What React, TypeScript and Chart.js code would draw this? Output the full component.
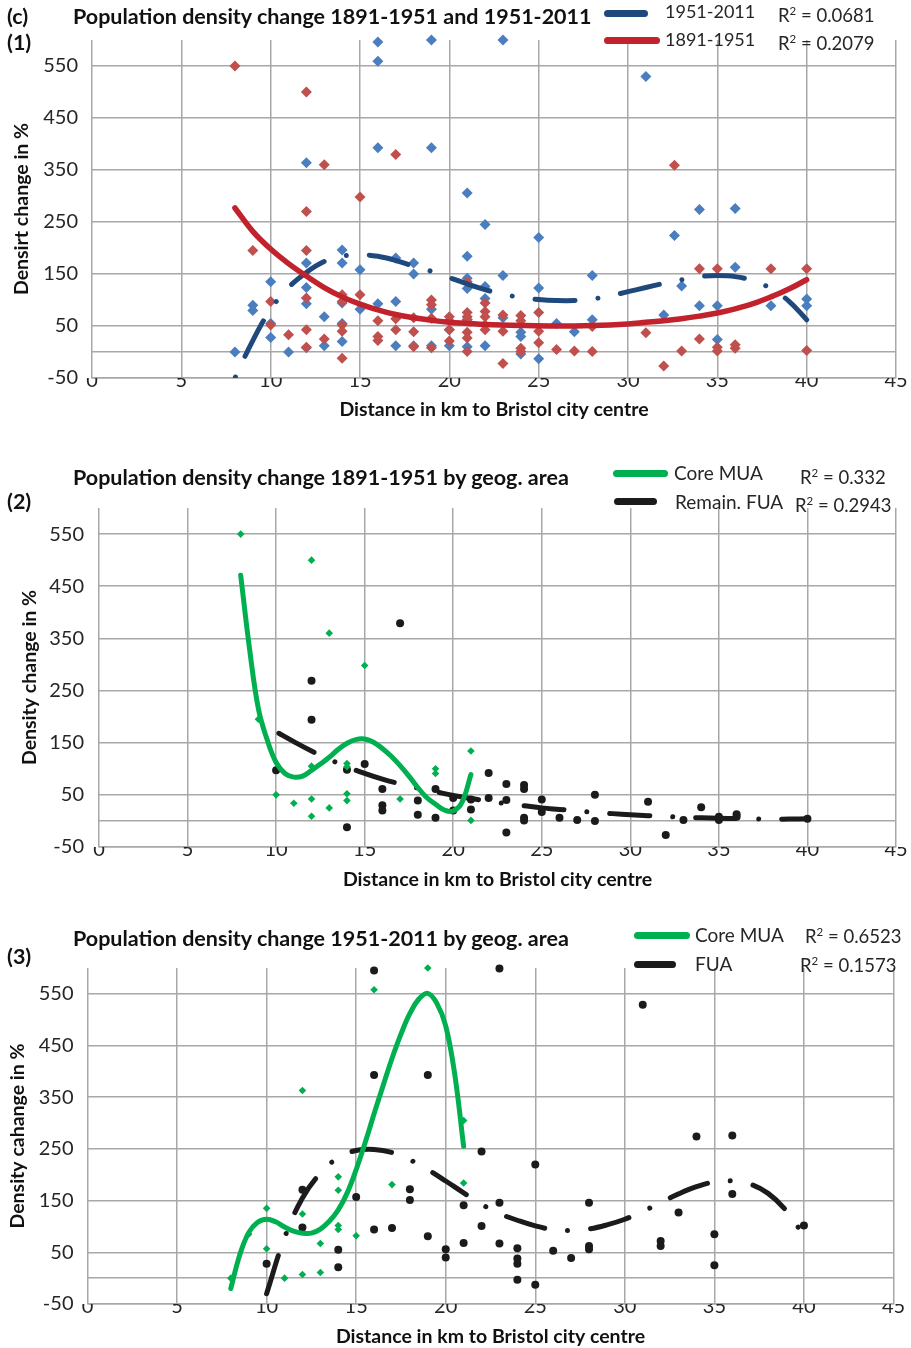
import React, { useEffect, useRef } from "react";
import { Chart, registerables } from "chart.js";

Chart.register(...registerables);

type Pt = [number, number];

// ---------- axis ticks ----------
const xTickValues = [0, 5, 10, 15, 20, 25, 30, 35, 40, 45];
const yTickValues = [-50, 0, 50, 150, 250, 350, 450, 550];

// ---------- Panel 1: all areas ----------
const p1Points1951_2011: Pt[] = [
  [8, 0], [9, 90], [9, 80], [10, 135], [10, 55], [10, 28], [11, 0],
  [12, 364], [12, 171], [12, 124], [12, 93], [12, 8], [13, 68], [13, 12],
  [14, 196], [14, 171], [14, 94], [14, 55], [14, 20], [15, 158], [15, 82],
  [16, 596], [16, 559], [16, 393], [16, 93], [17, 181], [17, 97], [17, 12],
  [18, 171], [18, 150], [18, 12], [19, 600], [19, 393], [19, 82], [19, 12],
  [20, 43], [20, 12], [21, 306], [21, 184], [21, 142], [21, 122], [21, 62], [21, 10],
  [22, 245], [22, 126], [22, 103], [22, 12], [23, 600], [23, 147], [23, 66],
  [24, 38], [24, 30], [24, -4], [25, 220], [25, 123], [25, -13], [26, 55], [27, 39],
  [28, 147], [28, 62], [31, 530], [32, 71], [32.6, 224], [33, 127], [34, 274], [34, 89],
  [35, 89], [35, 24], [36, 276], [36, 163], [38, 89], [40, 102], [40, 89],
];
const p1Points1891_1951: Pt[] = [
  [8, 550], [9, 195], [10, 97], [10, 52], [11, 33], [12, 500], [12, 270], [12, 195],
  [12, 104], [12, 43], [12, 9], [13, 360], [13, 25], [14, 110], [14, 97], [14, 52],
  [14, 40], [14, -12], [15, 298], [15, 110], [16, 60], [16, 30], [16, 22], [17, 380],
  [17, 64], [17, 43], [18, 66], [18, 39], [18, 10], [19, 100], [19, 91], [19, 65], [19, 8],
  [20, 68], [20, 60], [20, 43], [20, 21], [21, 135], [21, 76], [21, 68], [21, 62], [21, 38],
  [21, 27], [21, 1], [22, 94], [22, 78], [22, 68], [22, 52], [22, 43], [23, 71], [23, 40],
  [23, -22], [24, 70], [24, 60], [24, 7], [24, 1], [25, 76], [25, 40], [25, 18], [26, 5],
  [27, 2], [28, 49], [28, 1], [31, 37], [32, -27], [32.6, 359], [33, 2], [34, 160], [34, 25],
  [35, 160], [35, 9], [35, 2], [36, 14], [36, 7], [38, 160], [40, 160], [40, 3],
];
const p1Trend1951_2011: Pt[] = [
  [8, -50], [9, 22], [10, 82], [11, 124], [12, 153], [13, 174], [14, 184], [15, 187],
  [16, 184], [17, 176], [18, 165], [19, 155], [20, 143], [21, 131], [22, 120], [23, 111],
  [24, 105], [25, 101], [26, 99], [27, 99], [28, 102], [29, 108], [30, 116], [31, 124],
  [32, 132], [33, 139], [34, 145], [35, 147], [36, 145], [37, 137], [38, 122], [39, 98], [40, 62],
];
const p1Trend1891_1951: Pt[] = [
  [8, 277], [9, 232], [10, 198], [11, 170], [12, 146], [13, 124], [14, 106], [15, 92],
  [16, 81], [17, 72], [18, 66], [19, 61], [20, 57], [21, 55], [22, 53], [24, 51], [26, 50],
  [28, 51], [30, 54], [31, 57], [32, 60], [33, 64], [34, 69], [35, 75], [36, 83], [37, 93],
  [38, 106], [39, 121], [40, 139],
];

// ---------- Panel 2: 1891-1951 by area ----------
const p2CoreMua: Pt[] = [
  [8, 550], [9, 195], [10, 50], [11, 34], [12, 500], [12, 105], [12, 42], [12, 9],
  [13, 360], [13, 25], [14, 110], [14, 104], [14, 52], [14, 39], [15, 298], [17, 42],
  [19, 100], [19, 91], [21, 134], [21, 1],
];
const p2RemainFua: Pt[] = [
  [10, 97], [12, 269], [12, 194], [14, 98], [14, -12], [15, 109], [16, 61], [16, 30],
  [16, 20], [17, 379], [18, 39], [18, 12], [19, 61], [19, 6], [20, 44], [20, 20], [21, 41],
  [21, 22], [22, 92], [22, 44], [23, 71], [23, 40], [23, -22], [24, 69], [24, 61], [24, 6],
  [24, 1], [25, 41], [25, 17], [26, 6], [27, 2], [28, 50], [28, 0], [31, 37], [32, -27],
  [33, 2], [34, 26], [35, 8], [35, 2], [36, 13], [36, 8], [40, 4],
];
const p2TrendCore: Pt[] = [
  [8, 471], [8.5, 330], [9, 215], [9.5, 155], [10, 112], [10.5, 91], [11, 84], [11.5, 86],
  [12, 97], [12.5, 109], [13, 122], [13.5, 137], [14, 149], [14.5, 156], [15, 157],
  [15.5, 151], [16, 139], [16.5, 124], [17, 106], [17.5, 86], [18, 64], [18.5, 45],
  [19, 32], [19.5, 21], [20, 19], [20.5, 36], [21, 89],
];
const p2TrendFua: Pt[] = [
  [10, 171], [11, 152], [12, 134], [13, 118], [14, 104], [15, 91], [16, 80], [17, 71],
  [18, 63], [19, 56], [20, 49], [21, 43], [22, 38], [23, 33], [24, 29], [25, 25], [26, 22],
  [27, 19], [28, 16.5], [29, 14], [30, 12], [31, 10], [32, 8.5], [33, 7], [34, 6], [35, 5],
  [36, 4.5], [37, 4], [38, 3.5], [39, 3.5], [40, 4],
];

// ---------- Panel 3: 1951-2011 by area ----------
const p3CoreMua: Pt[] = [
  [8, 0], [9, 85], [10, 135], [10, 57], [11, 0], [12, 363], [12, 124], [12, 7], [13, 67],
  [13, 11], [14, 196], [14, 170], [14, 102], [14, 94], [15, 82], [16, 558], [17, 181],
  [19, 600], [21, 305], [21, 184],
];
const p3Fua: Pt[] = [
  [10, 28], [12, 171], [12, 98], [14, 55], [14, 21], [15, 157], [16, 595], [16, 393],
  [16, 94], [17, 97], [18, 172], [18, 151], [19, 393], [19, 81], [20, 56], [20, 40],
  [21, 141], [21, 68], [22, 245], [22, 101], [23, 599], [23, 146], [23, 67], [24, 58],
  [24, 38], [24, 28], [24, -3], [25, 220], [25, -13], [26, 53], [27, 39], [28, 146],
  [28, 62], [28, 56], [31, 529], [32, 72], [32, 62], [33, 127], [34, 274], [35, 85],
  [35, 25], [36, 276], [36, 163], [40, 102],
];
const p3TrendCore: Pt[] = [
  [8, -20], [8.5, 45], [9, 88], [9.5, 108], [10, 114], [10.5, 109], [11, 99], [11.5, 91],
  [12, 87], [12.5, 87], [13, 95], [13.5, 110], [14, 132], [14.5, 165], [15, 210],
  [15.5, 262], [16, 318], [16.5, 372], [17, 425], [17.5, 472], [18, 512], [18.5, 540],
  [19, 551], [19.5, 532], [20, 488], [20.5, 395], [21, 255],
];
const p3TrendFua: Pt[] = [
  [10, -30], [11, 78], [12, 155], [13, 203], [14, 233], [15, 247], [16, 249], [17, 243],
  [18, 229], [19, 210], [20, 188], [21, 165], [22, 143], [23, 125], [24, 112], [25, 101],
  [26, 94], [27, 92], [28, 95], [29, 103], [30, 114], [31, 129], [32, 146], [33, 163],
  [34, 177], [35, 186], [36, 188], [37, 182], [38, 164], [39, 131], [40, 82],
];

// ---------- styling ----------
const FONT = "Lato, 'Open Sans', sans-serif";
const GRID = "#a8a8a8";
const BLUE_PT = "#4a7ebf";
const RED_PT = "#c0504d";
const BLUE_TR = "#1f497d";
const RED_TR = "#c1222b";
const GREEN = "#00b050";
const BLACK = "#1b1b1b";
const DASH_DOT = [40, 23, 0.01, 23];
const TICK_SIZE = 20;
const AXIS_TITLE_SIZE = 19.5;
const TITLE_SIZE = 21.5;

type Series = {
  data: Pt[];
  kind: "diamond" | "circle" | "trend";
  color: string;
  size?: number;
  width?: number;
  dash?: number[];
  dashOffset?: number;
};

type PanelSpec = {
  top: number;
  height: number;
  area: { left: number; right: number; top: number; bottom: number };
  yTitle: string;
  yTitleX: number;
  xTitleY: number;
  yTickPad: number;
  series: Series[];
};

const panels: PanelSpec[] = [
  {
    top: 0,
    height: 440,
    area: { left: 92, right: 896, top: 40, bottom: 378 },
    yTitle: "Densirt change in %",
    yTitleX: 22,
    xTitleY: 410,
    yTickPad: 14,
    series: [
      { data: p1Trend1891_1951, kind: "trend", color: RED_TR, width: 5.5 },
      { data: p1Trend1951_2011, kind: "trend", color: BLUE_TR, width: 5, dash: DASH_DOT, dashOffset: -24 },
      { data: p1Points1891_1951, kind: "diamond", color: RED_PT, size: 5.5 },
      { data: p1Points1951_2011, kind: "diamond", color: BLUE_PT, size: 5.5 },
    ],
  },
  {
    top: 440,
    height: 460,
    area: { left: 99, right: 896, top: 68, bottom: 407 },
    yTitle: "Density change in %",
    yTitleX: 30,
    xTitleY: 440,
    yTickPad: 15,
    series: [
      { data: p2TrendCore, kind: "trend", color: GREEN, width: 5 },
      { data: p2TrendFua, kind: "trend", color: BLACK, width: 5, dash: DASH_DOT, dashOffset: -3 },
      { data: p2CoreMua, kind: "diamond", color: GREEN, size: 3.8 },
      { data: p2RemainFua, kind: "circle", color: BLACK, size: 4 },
    ],
  },
  {
    top: 900,
    height: 448,
    area: { left: 87.5, right: 893.5, top: 68, bottom: 404 },
    yTitle: "Density cahange in %",
    yTitleX: 18,
    xTitleY: 437,
    yTickPad: 14,
    series: [
      { data: p3TrendCore, kind: "trend", color: GREEN, width: 5 },
      { data: p3TrendFua, kind: "trend", color: BLACK, width: 5, dash: DASH_DOT },
      { data: p3CoreMua, kind: "diamond", color: GREEN, size: 3.8 },
      { data: p3Fua, kind: "circle", color: BLACK, size: 4 },
    ],
  },
];

function PanelChart({ spec }: { spec: PanelSpec }) {
  const ref = useRef<HTMLCanvasElement | null>(null);
  useEffect(() => {
    const canvas = ref.current;
    if (!canvas) return;
    const { area, height } = spec;
    const tickFont = { family: FONT, size: TICK_SIZE };
    const titleFont = { family: FONT, size: AXIS_TITLE_SIZE, weight: "bold" as const };
    const titleLH = AXIS_TITLE_SIZE * 1.2;
    const datasets: any[] = spec.series.map((s) => {
      const data = s.data.map(([x, y]) => ({ x, y }));
      if (s.kind === "trend") {
        return {
          data,
          showLine: true,
          borderColor: s.color,
          borderWidth: s.width,
          borderDash: s.dash || [],
          borderDashOffset: s.dashOffset || 0,
          borderCapStyle: "round",
          borderJoinStyle: "round",
          tension: 0.4,
          pointRadius: 0,
          pointHoverRadius: 0,
          fill: false,
        };
      }
      return {
        data,
        showLine: false,
        pointStyle: s.kind === "diamond" ? "rectRot" : "circle",
        pointRadius: s.size,
        pointHoverRadius: s.size,
        backgroundColor: s.color,
        borderColor: s.color,
        borderWidth: 0,
        clip: false,
      };
    });
    const chart = new Chart(canvas, {
      type: "scatter",
      data: { datasets },
      options: {
        animation: false,
        responsive: false,
        devicePixelRatio: 1,
        events: [],
        layout: { padding: { left: 0, top: area.top, right: 911 - area.right, bottom: 0 } },
        plugins: { legend: { display: false }, tooltip: { enabled: false } },
        scales: {
          x: {
            type: "linear",
            min: 0,
            max: 45,
            afterBuildTicks: (s: any) => {
              s.ticks = xTickValues.map((v) => ({ value: v }));
            },
            afterFit: (s: any) => {
              s.height = height - area.bottom;
            },
            grid: { color: GRID, lineWidth: 1.5, drawTicks: false },
            border: { display: true, color: GRID, width: 1.5 },
            ticks: {
              padding: -9,
              font: tickFont,
              color: "#262626",
              maxRotation: 0,
              autoSkip: false,
            },
            title: {
              display: true,
              text: "Distance in km to Bristol city centre",
              font: titleFont,
              color: "#111",
              padding: { top: 0, bottom: height - spec.xTitleY - titleLH / 2 },
            },
          },
          y: {
            type: "linear",
            min: -50,
            max: 600,
            afterBuildTicks: (s: any) => {
              s.ticks = yTickValues.map((v) => ({ value: v }));
            },
            afterFit: (s: any) => {
              s.width = area.left;
            },
            grid: { color: GRID, lineWidth: 1.5, drawTicks: false },
            border: { display: false },
            ticks: {
              padding: spec.yTickPad,
              font: tickFont,
              color: "#262626",
              autoSkip: false,
              callback: (v: any) => (Number(v) === 0 ? "" : String(v)),
            },
            title: {
              display: true,
              text: spec.yTitle,
              font: titleFont,
              color: "#111",
              padding: { top: spec.yTitleX - titleLH / 2, bottom: 0 },
            },
          },
        },
      } as any,
    });
    return () => chart.destroy();
  }, [spec]);
  return (
    <canvas
      ref={ref}
      width={911}
      height={spec.height}
      style={{ position: "absolute", left: 0, top: spec.top, width: 911, height: spec.height }}
    />
  );
}

function Txt({ x, y, size, bold, children }: { x: number; y: number; size: number; bold?: boolean; children: React.ReactNode }) {
  return (
    <div
      style={{
        position: "absolute",
        left: x,
        top: y - size * 0.6,
        fontSize: size,
        lineHeight: `${size * 1.2}px`,
        fontFamily: FONT,
        fontWeight: bold ? 700 : 400,
        color: bold ? "#111" : "#262626",
        whiteSpace: "nowrap",
      }}
    >
      {children}
    </div>
  );
}

function R2({ x, y, value }: { x: number; y: number; value: string }) {
  return (
    <Txt x={x} y={y} size={18.5}>
      R<span style={{ fontSize: "0.62em", position: "relative", top: "-0.6em" }}>2</span> = {value}
    </Txt>
  );
}

function LegendLine({ x1, x2, y, color }: { x1: number; x2: number; y: number; color: string }) {
  return (
    <div
      style={{
        position: "absolute",
        left: x1,
        top: y - 3.5,
        width: x2 - x1,
        height: 7,
        borderRadius: 3.5,
        background: color,
      }}
    />
  );
}

export default function App() {
  useEffect(() => {
    document.body.style.margin = "0";
  }, []);
  return (
    <div style={{ position: "absolute", left: 0, top: 0, width: 911, height: 1348, background: "#fff", overflow: "hidden" }}>
      {panels.map((p, i) => (
        <PanelChart key={i} spec={p} />
      ))}

      {/* Panel 1 texts */}
      <Txt x={7} y={17} size={TITLE_SIZE} bold>(c)</Txt>
      <Txt x={7} y={43} size={TITLE_SIZE} bold>(1)</Txt>
      <Txt x={73} y={17} size={TITLE_SIZE} bold>Population density change 1891-1951 and 1951-2011</Txt>
      <LegendLine x1={604} x2={648} y={13} color={BLUE_TR} />
      <Txt x={665} y={12} size={18}>1951-2011</Txt>
      <R2 x={778} y={15} value="0.0681" />
      <LegendLine x1={604} x2={660} y={40} color={RED_TR} />
      <Txt x={665} y={40} size={18}>1891-1951</Txt>
      <R2 x={778} y={43} value="0.2079" />

      {/* Panel 2 texts */}
      <Txt x={73} y={478} size={TITLE_SIZE} bold>Population density change 1891-1951 by geog. area</Txt>
      <Txt x={7} y={502} size={TITLE_SIZE} bold>(2)</Txt>
      <LegendLine x1={613} x2={668} y={473} color={GREEN} />
      <Txt x={674} y={473} size={19}>Core MUA</Txt>
      <R2 x={800} y={477} value="0.332" />
      <LegendLine x1={614} x2={657} y={501} color={BLACK} />
      <Txt x={675} y={502} size={19}>Remain. FUA</Txt>
      <R2 x={795} y={505} value="0.2943" />

      {/* Panel 3 texts */}
      <Txt x={73} y={939} size={TITLE_SIZE} bold>Population density change 1951-2011 by geog. area</Txt>
      <Txt x={7} y={957} size={TITLE_SIZE} bold>(3)</Txt>
      <LegendLine x1={634} x2={690} y={935} color={GREEN} />
      <Txt x={695} y={935} size={19}>Core MUA</Txt>
      <R2 x={805} y={936} value="0.6523" />
      <LegendLine x1={634} x2={676} y={964} color={BLACK} />
      <Txt x={695} y={964} size={19}>FUA</Txt>
      <R2 x={800} y={965} value="0.1573" />
    </div>
  );
}
